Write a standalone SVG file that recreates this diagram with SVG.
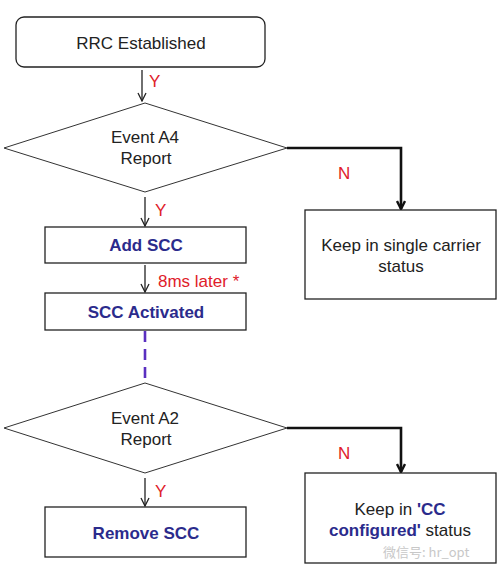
<svg xmlns="http://www.w3.org/2000/svg" width="500" height="568" viewBox="0 0 500 568">
<style>
.box{fill:#fff;stroke:#222;stroke-width:1.3}
.dia{fill:#fff;stroke:#333;stroke-width:1}
.t{font-family:"Liberation Sans",Arial,sans-serif;font-size:17px;fill:#222;text-anchor:middle}
.b{font-family:"Liberation Sans",Arial,sans-serif;font-size:17px;font-weight:bold;fill:#2b2b8c;text-anchor:middle}
.bb{font-weight:bold;fill:#2b2b8c}
.lbl{font-family:"Liberation Sans",Arial,sans-serif;font-size:17px;fill:#e0202a}
.thin{fill:none;stroke:#222;stroke-width:1.3}
.thick{fill:none;stroke:#111;stroke-width:2.6}
</style>
<defs>
<marker id="ah" viewBox="0 0 10 10" refX="9" refY="5" markerWidth="10" markerHeight="10" markerUnits="userSpaceOnUse" orient="auto">
<path d="M1,1 L9,5 L1,9" fill="none" stroke="#222" stroke-width="1.3"/>
</marker>
<marker id="ahb" viewBox="0 0 10 10" refX="9" refY="5" markerWidth="10" markerHeight="10" markerUnits="userSpaceOnUse" orient="auto">
<path d="M1,1 L9,5 L1,9" fill="none" stroke="#111" stroke-width="2.4"/>
</marker>
</defs>
<rect width="500" height="568" fill="#fff"/>
<g id="connectors">
<line class="thin" x1="142" y1="70" x2="142" y2="101" marker-end="url(#ah)"/>
<line class="thin" x1="145" y1="197" x2="145" y2="226" marker-end="url(#ah)"/>
<line class="thin" x1="145" y1="265" x2="145" y2="292" marker-end="url(#ah)"/>
<line x1="145" y1="331" x2="145" y2="383" stroke="#5a2fc0" stroke-width="2.6" stroke-dasharray="11,7"/>
<line class="thin" x1="145" y1="478" x2="145" y2="506" marker-end="url(#ah)"/>
<polyline class="thick" points="287,148 401,148 401,209" marker-end="url(#ahb)"/>
<polyline class="thick" points="287,428 401,428 401,472" marker-end="url(#ahb)"/>
<text class="lbl" x="149" y="87">Y</text>
<text class="lbl" x="155" y="216">Y</text>
<text class="lbl" x="158" y="287">8ms later *</text>
<text class="lbl" x="155" y="497">Y</text>
<text class="lbl" x="338" y="179">N</text>
<text class="lbl" x="338" y="459">N</text>
</g>
<g id="rrc">
<rect class="box" x="16" y="17" width="249" height="50" rx="8"/>
<text class="t" x="141" y="49">RRC Established</text>
</g>
<g id="a4">
<polygon class="dia" points="145,103 287,148 145,192 4,148"/>
<text class="t" x="145" y="143">Event A4</text>
<text class="t" x="146" y="164">Report</text>
</g>
<g id="single">
<rect class="box" x="305" y="210" width="191" height="89"/>
<text class="t" x="401" y="251">Keep in single carrier</text>
<text class="t" x="401" y="272">status</text>
</g>
<g id="addscc">
<rect class="box" x="45" y="227" width="201" height="36"/>
<text class="b" x="146" y="251">Add SCC</text>
</g>
<g id="activated">
<rect class="box" x="45" y="293" width="201" height="37"/>
<text class="b" x="146" y="318">SCC Activated</text>
</g>
<g id="a2">
<polygon class="dia" points="145,383 287,428 145,473 4,428"/>
<text class="t" x="145" y="424">Event A2</text>
<text class="t" x="146" y="445">Report</text>
</g>
<g id="remove">
<rect class="box" x="45" y="507" width="201" height="50"/>
<text class="b" x="146" y="539">Remove SCC</text>
</g>
<g id="ccconf">
<rect class="box" x="305" y="473" width="191" height="90"/>
<text class="t" x="400" y="515">Keep in <tspan class="bb">'CC</tspan></text>
<text class="t" x="400" y="536"><tspan class="bb">configured'</tspan> status</text>
<text x="383" y="557" font-family="'Noto Sans CJK SC','Liberation Sans',sans-serif" font-size="13" fill="#c8c8c8">微信号: hr_opt</text>
</g>
</svg>
